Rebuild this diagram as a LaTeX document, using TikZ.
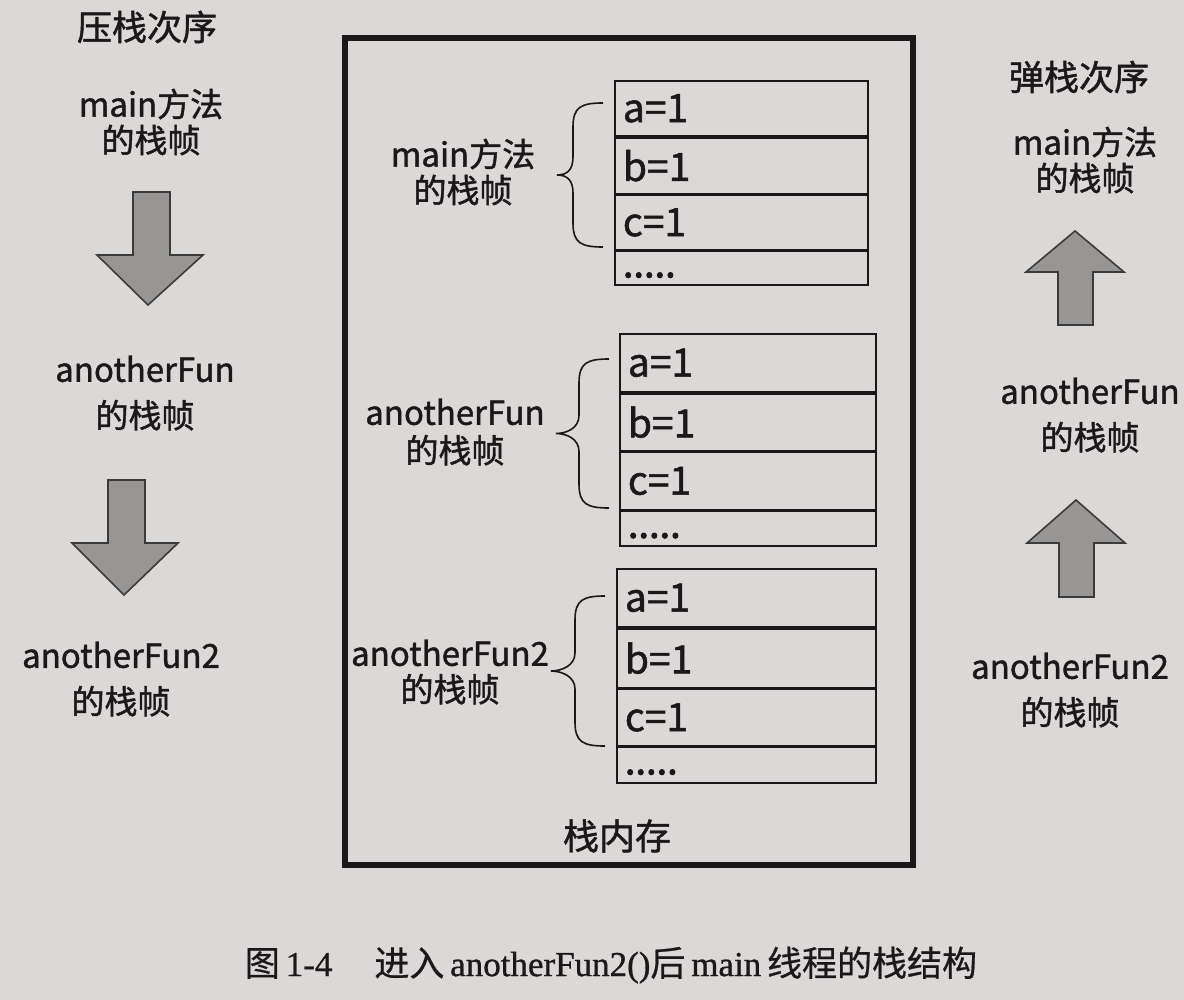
\documentclass[tikz,border=0pt]{standalone}
\usepackage{fontspec}
\setmainfont{Liberation Serif}[FakeBold=0.8]
\newfontfamily\dfont{Noto Sans CJK SC}[FakeBold=1.3]
\newfontfamily\dotfont{Noto Sans CJK SC}[FakeBold=2.5]
\newfontfamily\capcjk{Noto Sans CJK SC}[FakeBold=0.6]
\newfontfamily\caplatin{Liberation Serif}[FakeBold=0.9]

\definecolor{paper}{RGB}{219,217,215}
\definecolor{ink}{RGB}{26,24,24}
\definecolor{arrowgray}{RGB}{152,150,149}

% curly brace opening to the right, tip on the left
% #1 = x of the two ends, #2 = top y, #3 = bottom y, #4 = x of the tip
\newcommand\framebrace[4]{%
  \pgfmathsetmacro\bxm{#1-30}%
  \pgfmathsetmacro\bym{(#2+#3)/2}%
  \draw[bracestyle] (#1,#2) .. controls ({#1-22},#2) and (\bxm,{#2+4}) .. (\bxm,{#2+24})
    -- (\bxm,{\bym-18}) .. controls (\bxm,{\bym-5}) and ({#4+10},\bym) .. (#4,\bym)
    .. controls ({#4+10},\bym) and (\bxm,{\bym+5}) .. (\bxm,{\bym+18})
    -- (\bxm,{#3-24}) .. controls (\bxm,{#3-4}) and ({#1-22},#3) .. (#1,#3);%
}

\begin{document}
\begin{tikzpicture}[x=0.5pt,y=-0.5pt,
  title/.style={font=\dfont\fontsize{17.5}{20}\selectfont, text=ink},
  lbl/.style={font=\dfont\fontsize{16.5}{18}\selectfont, text=ink, align=center},
  cell/.style={draw=ink, line width=0.9pt, anchor=north west, inner xsep=4pt, inner ysep=1pt,
               align=left, font=\dfont\fontsize{19.5}{20}\selectfont, text=ink},
  dotcell/.style={cell, font=\dotfont\fontsize{19}{19}\selectfont, text depth=0pt,
               inner ysep=0pt, text height=3pt},
  memframe/.style={draw=ink, line width=3pt, anchor=north west, inner sep=0pt},
  blockarrow/.style={draw=ink!85, fill=arrowgray, line width=0.8pt, line join=miter},
  bracestyle/.style={draw=ink, line width=0.8pt},
]
\fill[paper] (0,0) rectangle (1184,1000);
\useasboundingbox (0,0) rectangle (1184,1000);

% ---------- stack memory frame ----------
\node[memframe, minimum width=284pt, minimum height=413.5pt] (mem) at (342,35) {};
\node[font=\dfont\fontsize{18}{20}\selectfont, text=ink] (memlbl) at (617,836) {栈内存};

% main frame
\node[cell, text width=118.5pt, minimum height=27.5pt] (ma) at (614,80) {a=1};
\node[cell, text width=118.5pt, minimum height=28pt] (mb) at (ma.south west) {b=1};
\node[cell, text width=118.5pt, minimum height=27pt] (mc) at (mb.south west) {c=1};
\node[dotcell, text width=118.5pt, minimum height=17pt] (md) at (mc.south west) {\raisebox{-3pt}{.....}};
\framebrace{603}{103}{247}{557}
\node[lbl] (mlbl) at (463,172) {main方法\\的栈帧};

% anotherFun frame
\node[cell, text width=120pt, minimum height=29pt] (fa) at (619,333) {a=1};
\node[cell, text width=120pt, minimum height=28.5pt] (fb) at (fa.south west) {b=1};
\node[cell, text width=120pt, minimum height=28.5pt] (fc) at (fb.south west) {c=1};
\node[dotcell, text width=120pt, minimum height=17.5pt] (fd) at (fc.south west) {\raisebox{-3pt}{.....}};
\framebrace{609}{359}{508}{556}
\node[lbl] (flbl) at (455,432) {anotherFun\\[1pt]的栈帧};

% anotherFun2 frame
\node[cell, text width=121.5pt, minimum height=29pt] (ga) at (616,568) {a=1};
\node[cell, text width=121.5pt, minimum height=29.5pt] (gb) at (ga.south west) {b=1};
\node[cell, text width=121.5pt, minimum height=28pt] (gc) at (gb.south west) {c=1};
\node[dotcell, text width=121.5pt, minimum height=18pt] (gd) at (gc.south west) {\raisebox{-3pt}{.....}};
\framebrace{605}{596}{746}{551}
\node[lbl] (glbl) at (450,672) {anotherFun2\\的栈帧};

% ---------- push order (left) ----------
\node[title] (pushttl) at (147,27) {压栈次序};
\node[lbl] (lmain) at (151,122) {main方法\\的栈帧};
\node[lbl] (lfun) at (145,393) {anotherFun\\[5pt]的栈帧};
\node[lbl] (lfun2) at (121,679) {anotherFun2\\[5pt]的栈帧};

\draw[blockarrow] (133,192) -- (170,192) -- (170,255) -- (203,255) -- (148,305)
  -- (97,255) -- (133,255) -- cycle;
\draw[blockarrow] (108,480) -- (145,480) -- (145,543) -- (178,543) -- (124,595)
  -- (72,543) -- (108,543) -- cycle;

% ---------- pop order (right) ----------
\node[title] (popttl) at (1079,77) {弹栈次序};
\node[lbl] (rmain) at (1085,160) {main方法\\的栈帧};
\node[lbl] (rfun) at (1090,415) {anotherFun\\[5pt]的栈帧};
\node[lbl] (rfun2) at (1070,690) {anotherFun2\\[5pt]的栈帧};

\draw[blockarrow] (1058,325) -- (1093,325) -- (1093,272) -- (1124,272) -- (1075,231)
  -- (1026,272) -- (1058,272) -- cycle;
\draw[blockarrow] (1059,597) -- (1094,597) -- (1094,543) -- (1125,543) -- (1076,500)
  -- (1027,543) -- (1059,543) -- cycle;

% ---------- caption ----------
\node[font=\caplatin\fontsize{17.5}{20}\selectfont, text=ink] (cap) at (611,965)
  {{\capcjk 图}\,1-4\hspace{1.2em}{\capcjk 进入}\,anotherFun2(){\capcjk 后}\,main\,{\capcjk 线程的栈结构}};
\end{tikzpicture}
\end{document}
